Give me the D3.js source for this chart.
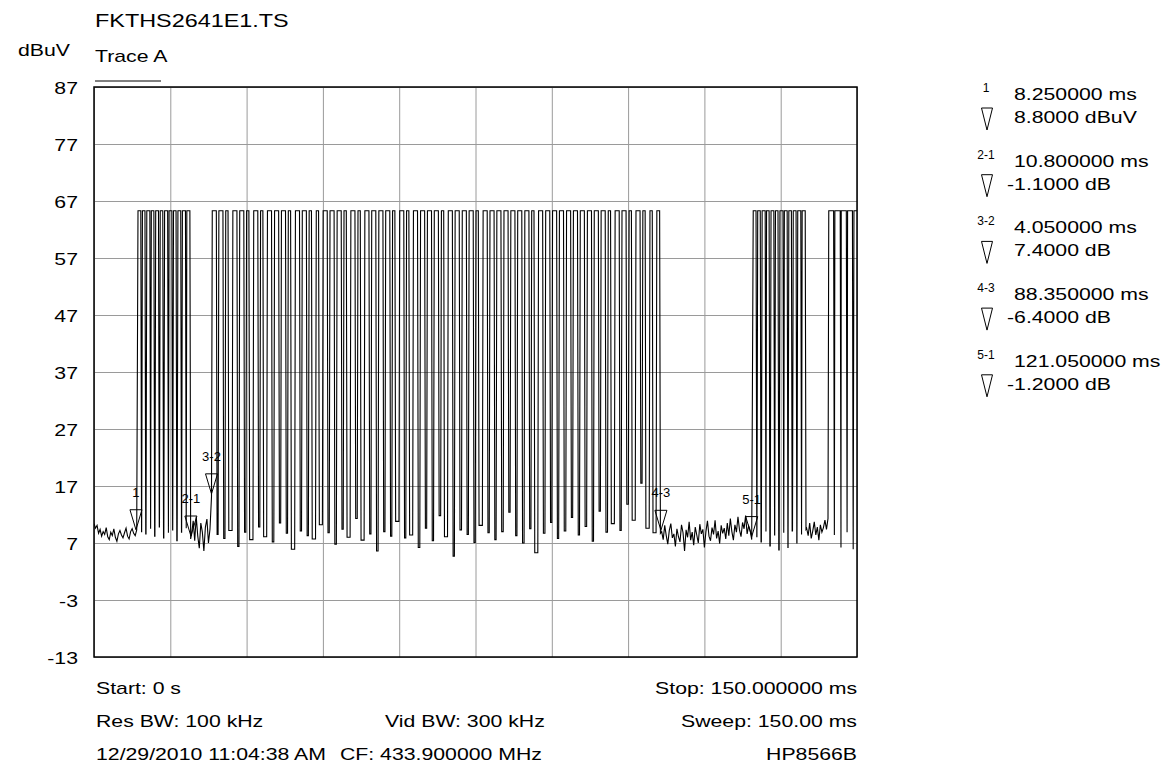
<!DOCTYPE html>
<html><head><meta charset="utf-8">
<script src="https://cdn.jsdelivr.net/npm/d3@7"></script>
<style>
body{margin:0;background:#fff}
svg text{font-family:"Liberation Sans",Arial,Helvetica,sans-serif;fill:#000}
</style>
</head><body>
<svg id="chart" width="1175" height="772"></svg>
<script>
// ---------------- data ----------------
const yTicks = [-13, -3, 7, 17, 27, 37, 47, 57, 67, 77, 87];
const xGrid = [0, 15, 30, 45, 60, 75, 90, 105, 120, 135, 150];
const sampleMs = 0.15;        // pulse edge duration (one sweep point)
const noiseStepMs = 0.3;      // spacing of plotted noise-floor points
const pulseTop = 65.3;        // dBuV level of carrier-on

// noise floor segments (dBuV)
const noiseStarts = [0, 19.2, 111.6, 140.1];
const noiseA = [10.4, 9.6, 10.1, 8.7, 9.4, 8.2, 9.0, 8.5, 9.7, 8.1,
  7.6, 8.9, 8.3, 9.5, 8.0, 7.3, 8.6, 9.2, 8.4, 7.9,
  8.8, 9.6, 8.2, 7.7, 9.0, 9.5, 8.7, 8.3, 9.3];
const noiseB = [8.6, 10.9, 7.4, 11.6, 8.2, 6.1, 10.5, 8.9, 5.6, 9.8, 11.2, 7.0, 9.4, 15.1];
const noiseC = [9.0, 7.6, 10.1, 8.3, 6.8, 9.2, 10.4, 7.9, 8.6, 6.4,
  9.5, 8.1, 7.2, 10.2, 8.8, 5.6, 9.3, 8.0, 10.7, 7.5,
  8.9, 6.6, 9.8, 8.4, 7.0, 10.3, 8.6, 9.4, 6.2, 9.0,
  10.9, 8.2, 7.4, 9.7, 8.5, 11.0, 7.8, 9.1, 6.9, 10.1,
  8.7, 9.6, 7.7, 10.5, 8.3, 11.3, 9.0, 7.5, 10.2, 8.9,
  11.6, 9.3, 8.1, 10.6, 9.5, 11.8, 8.6, 10.0, 9.2, 7.6];
const noiseD = [9.6, 8.3, 10.5, 7.8, 9.1, 10.7, 8.4, 9.8, 7.5, 10.2, 8.9, 9.7, 11.0, 9.4, 11.3];

// pulse bursts: rise time (ms), on-width (ms), trough level after pulse (dBuV)
const burst1On = [8.65, 9.52, 10.38, 11.27, 12.13, 13.02, 13.88, 14.76, 15.63, 16.50, 17.38, 18.25];
const burst1Width = [0.55, 0.50, 0.60, 0.50, 0.55, 0.50, 0.60, 0.55, 0.50, 0.55, 0.60, 0.60];
const burst1Low = [9.0, 8.6, 9.5, 8.2, 9.8, 7.9, 8.8, 9.3, 7.4, 8.9, 9.6, 7.7];

const mainOn = [23.25, 24.55, 25.90, 27.30, 28.65, 30.00, 31.40, 32.75, 34.10, 35.50,
  36.85, 38.20, 39.60, 40.95, 42.30, 43.70, 45.05, 46.40, 47.80, 49.15,
  50.50, 51.90, 53.25, 54.60, 56.00, 57.35, 58.70, 60.10, 61.45, 62.80,
  64.20, 65.55, 66.90, 68.30, 69.65, 71.00, 72.40, 73.75, 75.10, 76.50,
  77.85, 79.20, 80.60, 81.95, 83.30, 84.70, 86.05, 87.40, 88.80, 90.15,
  91.50, 92.90, 94.25, 95.60, 97.00, 98.35, 99.70, 101.10, 102.45, 103.80,
  105.20, 106.55, 107.90, 109.30, 110.65];
const mainWidth = [0.80, 0.80, 0.45, 0.80, 0.80, 0.45, 0.80, 0.45, 0.80, 0.80,
  0.80, 0.45, 0.80, 0.80, 0.45, 0.45, 0.80, 0.80, 0.80, 0.45,
  0.80, 0.45, 0.80, 0.80, 0.80, 0.80, 0.45, 0.80, 0.45, 0.80,
  0.80, 0.80, 0.80, 0.45, 0.80, 0.80, 0.80, 0.80, 0.45, 0.80,
  0.80, 0.80, 0.80, 0.80, 0.80, 0.80, 0.45, 0.80, 0.80, 0.80,
  0.80, 0.80, 0.80, 0.80, 0.80, 0.80, 0.80, 0.45, 0.80, 0.80,
  0.45, 0.80, 0.45, 0.45, 0.55];
const mainLow = [8.5, 7.8, 9.2, 6.4, 8.9, 7.6, 9.8, 8.1, 7.2, 10.5,
  8.7, 5.9, 9.1, 8.3, 7.7, 10.2, 8.8, 6.8, 9.4, 8.0,
  11.3, 7.5, 8.6, 5.6, 9.0, 8.2, 10.8, 7.9, 8.4, 6.2,
  9.6, 7.4, 11.8, 8.1, 4.7, 9.3, 8.5, 7.1, 10.1, 8.8,
  7.6, 9.0, 12.4, 8.3, 7.0, 9.5, 5.3, 8.7, 10.6, 7.8,
  9.1, 11.5, 8.4, 9.9, 7.3, 12.6, 8.9, 10.4, 9.2, 13.8,
  11.0, 17.5, 9.6, 8.8, 8.7];

const burst3On = [129.60, 130.48, 131.35, 132.22, 133.10, 133.97, 134.85, 135.72, 136.60, 137.47, 138.35, 139.22];
const burst3Width = [0.55, 0.50, 0.60, 0.50, 0.55, 0.50, 0.60, 0.55, 0.50, 0.55, 0.60, 0.60];
const burst3Low = [8.1, 7.2, 9.0, 6.5, 8.4, 5.8, 8.8, 6.2, 9.1, 7.0, 8.5, 9.4];

const tailOn = [144.45, 145.65, 146.90, 148.15, 149.40];
const tailWidth = [0.95, 1.05, 1.00, 0.95, 0.60];
const tailLow = [8.4, 6.2, 8.9, 5.9, null];

// markers
const markerNames = ["1", "2-1", "3-2", "4-3", "5-1"];
const markerRef = [-1, 0, 1, 2, 0];
const markerDeltaMs = [8.25, 10.8, 4.05, 88.35, 121.05];
const markerDeltaDb = [8.8, -1.1, 7.4, -6.4, -1.2];

// header / footer texts
const fileName = "FKTHS2641E1.TS";
const traceName = "Trace A";
const unitLabel = "dBuV";
const footerLeft = ["Start: 0 s", "Res BW: 100 kHz", "12/29/2010 11:04:38 AM"];
const footerMid = ["", "Vid BW: 300 kHz", "CF: 433.900000 MHz"];
const footerRight = ["Stop: 150.000000 ms", "Sweep: 150.00 ms", "HP8566B"];

// ---------------- layout ----------------
const L = 94, R = 857, T = 87, B = 657;
const SX = 1.25; // horizontal text stretch of the instrument font
const FS = 17;

const svg = d3.select("#chart");
const x = d3.scaleLinear().domain([0, 150]).range([L, R]);
const y = d3.scaleLinear().domain([-13, 87]).range([B, T]);

function txt(px, py, s, size, anchor, sx) {
  svg.append("text")
    .attr("transform", `translate(${px},${py}) scale(${sx === undefined ? SX : sx},1)`)
    .attr("text-anchor", anchor || "start")
    .attr("font-size", size)
    .text(s);
}

// grid via axes
svg.append("g").attr("transform", `translate(0,${B})`)
  .call(d3.axisBottom(x).tickValues(xGrid).tickSize(-(B - T)).tickFormat(""))
  .call(g => g.select(".domain").remove())
  .call(g => g.selectAll("line").attr("stroke", "#9a9a9a").attr("stroke-width", 1));
svg.append("g").attr("transform", `translate(${L},0)`)
  .call(d3.axisLeft(y).tickValues(yTicks).tickSize(-(R - L)).tickFormat(""))
  .call(g => g.select(".domain").remove())
  .call(g => g.selectAll("line").attr("stroke", "#9a9a9a").attr("stroke-width", 1));

// build trace points
const pts = [];
[noiseA, noiseB, noiseC, noiseD].forEach((arr, k) => {
  arr.forEach((v, i) => pts.push([noiseStarts[k] + i * noiseStepMs, v]));
});
function addPulses(on, w, low) {
  on.forEach((t, i) => {
    const off = Math.min(t + w[i], 150);
    pts.push([t, pulseTop]);
    pts.push([off, pulseTop]);
    if (low[i] !== null && low[i] !== undefined) {
      const tl = off + sampleMs;
      pts.push([tl, low[i]]);
      if (i + 1 < on.length && on[i + 1] - sampleMs > tl + 0.01) pts.push([on[i + 1] - sampleMs, low[i]]);
    }
  });
}
addPulses(burst1On, burst1Width, burst1Low);
addPulses(mainOn, mainWidth, mainLow);
addPulses(burst3On, burst3Width, burst3Low);
addPulses(tailOn, tailWidth, tailLow);
pts.sort((a, b) => a[0] - b[0]);

svg.append("clipPath").attr("id", "clip").append("rect")
  .attr("x", L).attr("y", T).attr("width", R - L).attr("height", B - T);
svg.append("path")
  .attr("clip-path", "url(#clip)")
  .attr("d", d3.line().x(d => x(d[0])).y(d => y(d[1]))(pts))
  .attr("fill", "none").attr("stroke", "#000").attr("stroke-width", 1.1)
  .attr("stroke-linejoin", "miter");

// border
svg.append("rect").attr("x", L).attr("y", T).attr("width", R - L).attr("height", B - T)
  .attr("fill", "none").attr("stroke", "#000").attr("stroke-width", 1.5);

// y tick labels
yTicks.forEach(v => txt(78, y(v) + 7, String(v), FS, "end"));

// header
txt(95, 27, fileName, 18, "start", 1.3);
txt(18, 56, unitLabel, FS, "start");
txt(95, 62, traceName, FS, "start");
svg.append("line").attr("x1", 95).attr("x2", 161).attr("y1", 81).attr("y2", 81)
  .attr("stroke", "#000").attr("stroke-width", 1);

// footer
const rowsY = [694, 727, 760];
footerLeft.forEach((s, i) => txt(96, rowsY[i], s, FS, "start"));
footerMid.forEach((s, i) => { if (s) txt(i === 1 ? 385 : 340, rowsY[i], s, FS, "start"); });
footerRight.forEach((s, i) => txt(857, rowsY[i], s, FS, "end"));

// markers: absolute time & level
const mT = [], mV = [];
markerNames.forEach((n, i) => {
  if (markerRef[i] < 0) { mT.push(markerDeltaMs[i]); mV.push(markerDeltaDb[i]); }
  else { mT.push(mT[markerRef[i]] + markerDeltaMs[i]); mV.push(mV[markerRef[i]] + markerDeltaDb[i]); }
});
const triW = 12, triH = 20;
markerNames.forEach((n, i) => {
  const px = x(mT[i]), py = y(mV[i]) - 3;
  svg.append("path")
    .attr("d", `M${px},${py} L${px - triW / 2},${py - triH} L${px + triW / 2},${py - triH} Z`)
    .attr("fill", "none").attr("stroke", "#000").attr("stroke-width", 1);
  txt(px, py - triH - 13, n, 13, "middle", 1.0);
});

// marker legend
const legTop = 100, legStep = 66.7;
const fmtMs = d3.format(".6f"), fmtDb = d3.format(".4f");
markerNames.forEach((n, i) => {
  const by = legTop + i * legStep;
  txt(986, by - 8, n, 12, "middle", 1.0);
  txt(1014, by, fmtMs(markerDeltaMs[i]) + " ms", FS, "start");
  const dv = markerDeltaDb[i];
  const s = fmtDb(dv).replace("\u2212", "-") + (i === 0 ? " dBuV" : " dB");
  txt(dv < 0 ? 1007 : 1014, by + 23, s, FS, "start");
  const tx = 987, ty = by + 8;
  svg.append("path")
    .attr("d", `M${tx - 5.5},${ty} L${tx + 5.5},${ty} L${tx},${ty + 22} Z`)
    .attr("fill", "none").attr("stroke", "#000").attr("stroke-width", 1);
});
</script>
</body></html>
